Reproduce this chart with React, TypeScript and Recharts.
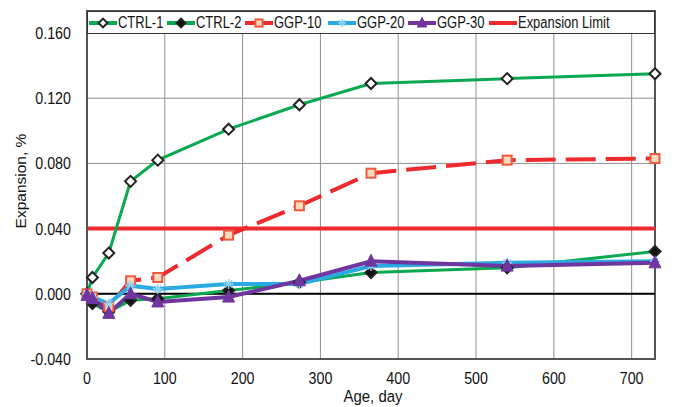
import { LineChart, Line, XAxis, YAxis, CartesianGrid, ReferenceLine, ReferenceArea, Legend, Label } from "recharts";

// ages in days and measured expansion (%) per mix
const days = [0, 7, 28, 56, 91, 182, 273, 365, 540, 730];
const ctrl1 = [0.0, 0.01, 0.025, 0.069, 0.082, 0.101, 0.116, 0.129, 0.132, 0.135];
const ctrl2 = [0.0, -0.006, -0.011, -0.004, -0.003, 0.002, 0.007, 0.013, 0.016, 0.026];
const ggp10 = [0.0, -0.002, -0.008, 0.008, 0.01, 0.036, 0.054, 0.074, 0.082, 0.083];
const ggp20 = [0.0, -0.002, -0.006, 0.005, 0.003, 0.006, 0.006, 0.017, 0.019, 0.02];
const ggp30 = [-0.001, -0.003, -0.012, 0.0, -0.005, -0.002, 0.008, 0.02, 0.017, 0.019];

const xTicks = [0, 100, 200, 300, 400, 500, 600, 700];
const yTicks = [-0.04, 0, 0.04, 0.08, 0.12, 0.16];
const expansionLimit = 0.04;
const Y_MAX = 0.1735;

const FONT = "'Liberation Sans', Arial, sans-serif";
const SQUEEZE = 0.84; // the source font is a narrow one
const GREEN = "#0aa84f";
const RED = "#ee2a2f";
const BLUE = "#2aaae2";
const PURPLE = "#6f36a0";

const chartData = days.map((day, i) => ({
  day,
  ctrl1: ctrl1[i],
  ctrl2: ctrl2[i],
  ggp10: ggp10[i],
  ggp20: ggp20[i],
  ggp30: ggp30[i],
}));

function Marker({ kind, cx, cy, small = false }) {
  if (cx == null || cy == null) return null;
  const k = small ? 0.8 : 1;
  if (kind === "diamondOpen" || kind === "diamondFilled") {
    const r = 5.5 * k;
    return (
      <path
        d={`M${cx},${cy - r}L${cx + r},${cy}L${cx},${cy + r}L${cx - r},${cy}Z`}
        fill={kind === "diamondOpen" ? "#fff" : "#111"}
        stroke="#222"
        strokeWidth={2}
      />
    );
  }
  if (kind === "square") {
    const h = 4.5 * k;
    return <rect x={cx - h} y={cy - h} width={h * 2} height={h * 2} fill="#fcd9c0" stroke="#f05a3c" strokeWidth={2} />;
  }
  if (kind === "star") {
    const r = 5 * k;
    return (
      <g stroke="#8fd3f5" strokeWidth={1.5}>
        <line x1={cx - r} y1={cy} x2={cx + r} y2={cy} />
        <line x1={cx - r * 0.7} y1={cy - r * 0.7} x2={cx + r * 0.7} y2={cy + r * 0.7} />
        <line x1={cx - r * 0.7} y1={cy + r * 0.7} x2={cx + r * 0.7} y2={cy - r * 0.7} />
        <line x1={cx} y1={cy - r} x2={cx} y2={cy + r} />
      </g>
    );
  }
  return (
    <path
      d={`M${cx},${cy - 7 * k}L${cx + 6 * k},${cy + 5 * k}L${cx - 6 * k},${cy + 5 * k}Z`}
      fill={PURPLE}
      stroke={PURPLE}
      strokeWidth={1}
    />
  );
}

const series = [
  { key: "ctrl1", name: "CTRL-1", color: GREEN, width: 3, marker: "diamondOpen", dash: undefined },
  { key: "ctrl2", name: "CTRL-2", color: GREEN, width: 3, marker: "diamondFilled", dash: undefined },
  { key: "ggp10", name: "GGP-10", color: RED, width: 4, marker: "square", dash: "30 10" },
  { key: "ggp20", name: "GGP-20", color: BLUE, width: 4, marker: "star", dash: undefined },
  { key: "ggp30", name: "GGP-30", color: PURPLE, width: 4, marker: "triangle", dash: undefined },
];

// left edge of each legend entry inside the box
const legendX = [1, 79, 157, 240, 320, 401];

function LegendBox() {
  const entries = [
    ...series.map((s) => ({ name: s.name, color: s.color, marker: s.marker })),
    { name: "Expansion Limit", color: RED, marker: null },
  ];
  return (
    <div
      style={{
        position: "relative",
        width: 568,
        height: 23,
        boxSizing: "border-box",
        border: "1px solid #333",
        background: "#fff",
        fontFamily: FONT,
        fontSize: 16,
        color: "#111",
        whiteSpace: "nowrap",
      }}
    >
      {entries.map((e, i) => (
        <div key={e.name} style={{ position: "absolute", left: legendX[i], top: 2, height: 18, display: "flex", alignItems: "center" }}>
          <svg width={28} height={16} style={{ marginRight: 1 }}>
            <line x1={0} y1={8} x2={28} y2={8} stroke={e.color} strokeWidth={4} />
            {e.marker && <Marker kind={e.marker} cx={14} cy={8} small />}
          </svg>
          <span style={{ display: "inline-block", transform: "scaleX(0.81)", transformOrigin: "left center" }}>{e.name}</span>
        </div>
      ))}
    </div>
  );
}

function XTick({ x, y, payload }) {
  return (
    <text
      transform={`translate(${x},${y + 19}) scale(${SQUEEZE},1)`}
      textAnchor="middle"
      style={{ fontFamily: FONT, fontSize: 17, fill: "#111" }}
    >
      {payload.value}
    </text>
  );
}

function YTick({ x, y, payload }) {
  return (
    <text
      transform={`translate(${x},${y + 6}) scale(${SQUEEZE},1)`}
      textAnchor="end"
      style={{ fontFamily: FONT, fontSize: 17, fill: "#111" }}
    >
      {payload.value.toFixed(3)}
    </text>
  );
}

export default function App() {
  return (
    <div style={{ position: "absolute", left: 0, top: 0, width: 680, height: 407, background: "#fff" }}>
      <LineChart width={680} height={407} data={chartData} margin={{ top: 11, right: 25, bottom: 0, left: 0 }}>
        <CartesianGrid stroke="#8f8f8f" strokeWidth={1} />
        <XAxis
          dataKey="day"
          type="number"
          domain={[0, 730]}
          ticks={xTicks}
          tickLine={false}
          axisLine={{ stroke: "#555", strokeWidth: 2 }}
          tick={<XTick />}
          tickMargin={0}
          height={48}
          interval={0}
        >
          <Label
            content={() => (
              <text
                transform={`translate(373,402) scale(0.88,1)`}
                textAnchor="middle"
                style={{ fontFamily: FONT, fontSize: 17, fill: "#111" }}
              >
                Age, day
              </text>
            )}
          />
        </XAxis>
        <YAxis
          type="number"
          domain={[-0.04, Y_MAX]}
          ticks={yTicks}
          tickLine={false}
          axisLine={{ stroke: "#555", strokeWidth: 2 }}
          tick={<YTick />}
          tickMargin={10}
          width={87}
          interval={0}
          allowDataOverflow
        >
          <Label
            content={() => (
              <text
                x={26}
                y={181}
                textAnchor="middle"
                transform="rotate(-90, 26, 181)"
                style={{ fontFamily: FONT, fontSize: 15.5, fill: "#111" }}
              >
                Expansion, %
              </text>
            )}
          />
        </YAxis>
        <ReferenceArea x1={0} x2={730} y1={-0.04} y2={Y_MAX} fill="none" stroke="#555" strokeWidth={2} />
        <ReferenceLine y={0} stroke="#000" strokeWidth={2} />
        <ReferenceLine y={expansionLimit} stroke={RED} strokeWidth={4} />
        {series.map((s) => (
          <Line
            key={s.key}
            dataKey={s.key}
            name={s.name}
            type="linear"
            stroke={s.color}
            strokeWidth={s.width}
            strokeDasharray={s.dash}
            isAnimationActive={false}
            dot={(p) => <Marker key={`${s.key}-${p.index}`} kind={s.marker} cx={p.cx} cy={p.cy} />}
            activeDot={false}
          />
        ))}
        <Legend
          verticalAlign="middle"
          align="center"
          layout="horizontal"
          content={() => <LegendBox />}
          wrapperStyle={{ top: 11, left: 87, width: 568, height: 23 }}
        />
      </LineChart>
    </div>
  );
}
